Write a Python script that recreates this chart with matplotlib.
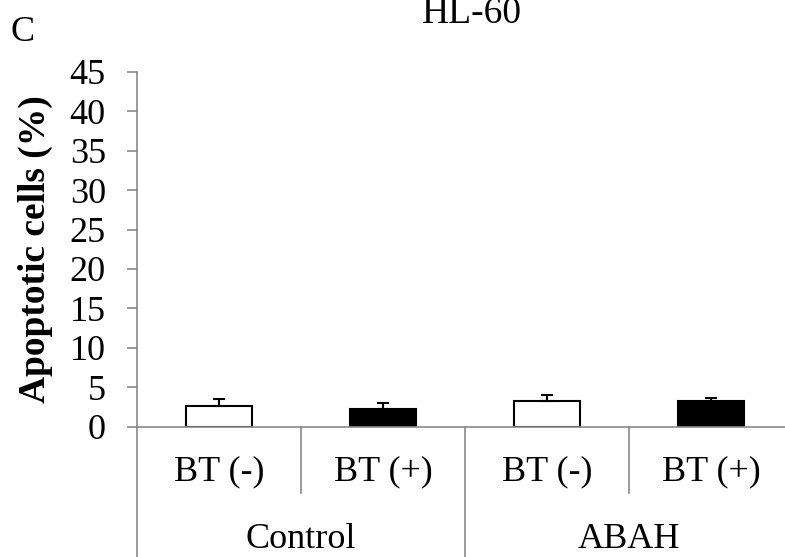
import numpy as np
import matplotlib.pyplot as plt
import matplotlib.transforms as mtransforms

plt.rcParams['font.family'] = ['Liberation Serif', 'DejaVu Serif']

# data
groups = ['Control', 'ABAH']
bt_labels = ['BT (-)', 'BT (+)', 'BT (-)', 'BT (+)']
values = [2.6, 2.2, 3.3, 3.2]
errors = [0.95, 0.8, 0.75, 0.45]
fills = ['white', 'black', 'white', 'black']
yticks = np.arange(0, 50, 5)

W, H = 785, 557
fig = plt.figure(figsize=(W / 100, H / 100), dpi=100)
ax = fig.add_axes([137 / W, (H - 426.5) / H, (793 - 137) / W, (426.5 - 72) / H])

axis_gray = '#898989'
x = np.arange(len(values))
ax.bar(x, values, width=0.4, color=fills, edgecolor='black', linewidth=1.5, zorder=2)
ax.errorbar(x, values, yerr=[np.zeros(len(errors)), errors], fmt='none',
            ecolor='black', elinewidth=1.5, capsize=4.2, capthick=1.5, zorder=3)

ax.set_xlim(-0.5, 3.5)
ax.set_ylim(0, 45)
ax.set_yticks(yticks)
ax.tick_params(axis='y', direction='out', length=7.5, width=1.2, color=axis_gray,
               labelsize=26, pad=15)
ax.set_xticks([])
for s in ['top', 'right']:
    ax.spines[s].set_visible(False)
for s in ['left', 'bottom']:
    ax.spines[s].set_color(axis_gray)
    ax.spines[s].set_linewidth(1.2)
    ax.spines[s].set_zorder(4)

ax.set_ylabel('Apoptotic cells (%)', fontsize=27, fontweight='bold')
ax.yaxis.set_label_coords(-0.128, 0.5)

# two-level category axis
trans = mtransforms.blended_transform_factory(ax.transData, ax.transAxes)
ax_h = 426.5 - 72
inner_bottom = -(493 - 426.5) / ax_h
outer_bottom = -(H - 426.5) / ax_h - 0.01
for xs in [0.5, 2.5]:
    ax.plot([xs, xs], [0, inner_bottom], color=axis_gray, lw=1.2, transform=trans, clip_on=False)
for xs in [-0.5, 1.5]:
    ax.plot([xs, xs], [0, outer_bottom], color=axis_gray, lw=1.2, transform=trans, clip_on=False)

bt_y = -(472 - 426.5) / ax_h
grp_y = -(540 - 426.5) / ax_h
for xi, lab in zip(x, bt_labels):
    ax.text(xi, bt_y, lab, transform=trans, ha='center', va='center', fontsize=26)
for gi, g in enumerate(groups):
    ax.text(gi * 2 + 0.5, grp_y, g, transform=trans, ha='center', va='center', fontsize=26)

fig.text(472 / W, 1 - 23 / H, 'HL-60', ha='center', va='baseline', fontsize=27)
fig.text(23 / W, 1 - 41 / H, 'C', ha='center', va='baseline', fontsize=26)

fig.savefig('out.png', dpi=100)
